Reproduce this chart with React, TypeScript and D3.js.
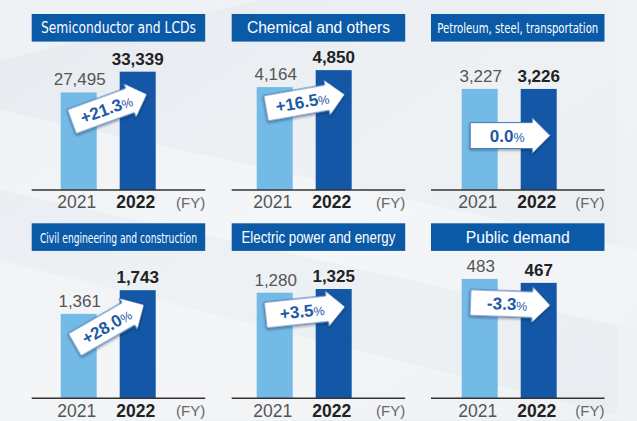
import React from "react";
import * as d3 from "d3";

const categories = [
  "Semiconductor and LCDs",
  "Chemical and others",
  "Petroleum, steel, transportation",
  "Civil engineering and construction",
  "Electric power and energy",
  "Public demand",
];
const years = ["2021", "2022"];
const values2021 = [27495, 4164, 3227, 1361, 1280, 483];
const values2022 = [33339, 4850, 3226, 1743, 1325, 467];
const changeLabels = ["+21.3", "+16.5", "0.0", "+28.0", "+3.5", "-3.3"];
const axisMax = [36630, 5260, 4150, 2096, 1576, 526];
const unitLabel = "(FY)";

// layout
const W = 637;
const H = 421;
const colX = [31.7, 231.7, 431];
const panelW = 173.5;
const headerY = [14, 223.3];
const headerH = 27.6;
const baseY = [190, 398.3];
const barOffset = [29, 25, 30.7];
const plotH = 130;
const headerFont = [16, 16, 14, 14, 16, 16];
const headerNarrow = [true, false, true, true, false, false];
const headerTextW = [155, 143, 161, 157, 154, 104];
const arrowAngle = [-20, -10, 0, -30, -6, 2];
const arrowDy = [15.6, 14.4, 46.7, 11, 18.3, 25];

const FONT = "'Liberation Sans', Arial, Helvetica, sans-serif";
const FONT_NARROW = "'Liberation Sans Narrow', 'DejaVu Sans Condensed', 'Liberation Sans', Arial, sans-serif";
const C_HEADER = "#0b5aa8";
const C_LIGHT = "#74bae6";
const C_DARK = "#1457a6";
const fmt = d3.format(",");

const arrowPath = "M-40,-13 L22,-13 L22,-18 L40,0 L22,18 L22,13 L-40,13 Z";

function Panel({ i }: { i: number }) {
  const col = i % 3;
  const row = Math.floor(i / 3);
  const x0 = colX[col];
  const by = baseY[row];
  const y = d3.scaleLinear().domain([0, axisMax[i]]).range([by, by - plotH]);
  const x = d3
    .scaleBand<string>()
    .domain(years)
    .range([x0 + barOffset[col], x0 + barOffset[col] + 95])
    .paddingInner(23 / 59)
    .paddingOuter(0);
  const vals = [values2021[i], values2022[i]];
  const bw = x.bandwidth();
  const c1 = (x(years[0]) as number) + bw / 2;
  const c2 = (x(years[1]) as number) + bw / 2;
  const ax = (c1 + c2) / 2 + 1;
  const ay = y(vals[0]) + arrowDy[i];
  const hy = headerY[row];
  return (
    <g>
      <rect x={x0} y={hy} width={panelW} height={headerH} fill={C_HEADER} />
      <text
        x={x0 + panelW / 2}
        y={hy + headerH / 2 + 5.5}
        textAnchor="middle"
        fill="#fff"
        fontSize={headerFont[i]}
        fontFamily={headerNarrow[i] ? FONT_NARROW : FONT}
        textLength={headerTextW[i]}
        lengthAdjust="spacingAndGlyphs"
      >
        {categories[i]}
      </text>
      {years.map((yr, k) => (
        <rect
          key={yr}
          x={x(yr)}
          y={y(vals[k])}
          width={bw}
          height={by - y(vals[k])}
          fill={k === 0 ? C_LIGHT : C_DARK}
        />
      ))}
      {years.map((yr, k) => (
        <text
          key={"v" + yr}
          x={(x(yr) as number) + bw / 2 + (k === 0 ? 1 : 0)}
          y={y(vals[k]) - 7}
          textAnchor="middle"
          fontSize={17}
          fontWeight={k === 0 ? 400 : 700}
          fill={k === 0 ? "#555" : "#222"}
          fontFamily={FONT}
        >
          {fmt(vals[k])}
        </text>
      ))}
      <line x1={x0} x2={x0 + panelW} y1={by} y2={by} stroke="#333" strokeWidth={1.6} />
      {years.map((yr, k) => (
        <text
          key={"l" + yr}
          x={(x(yr) as number) + bw / 2 - 2}
          y={by + 18.3}
          textAnchor="middle"
          fontSize={17.5}
          fontWeight={k === 0 ? 400 : 700}
          fill={k === 0 ? "#555" : "#222"}
          fontFamily={FONT}
        >
          {yr}
        </text>
      ))}
      <text
        x={x0 + panelW}
        y={by + 18}
        textAnchor="end"
        fontSize={15}
        fill="#666"
        fontFamily={FONT}
      >
        {unitLabel}
      </text>
      <g transform={`translate(${ax},${ay}) rotate(${arrowAngle[i]})`}>
        <path d={arrowPath} fill="#fff" stroke="#3d74b8" strokeWidth={1} filter="url(#shadow)" />
        <text
          x={-3}
          y={6}
          textAnchor="middle"
          fontSize={17}
          fontWeight={700}
          fill="#1f5aa6"
          fontFamily={FONT}
        >
          {changeLabels[i]}
          <tspan fontSize={12.5} fontWeight={400}>%</tspan>
        </text>
      </g>
    </g>
  );
}

export default function App() {
  return (
    <svg
      width={W}
      height={H}
      style={{ position: "absolute", left: 0, top: 0 }}
      viewBox={`0 0 ${W} ${H}`}
    >
      <defs>
        <linearGradient id="bg" x1="0" y1="0" x2="1" y2="1">
          <stop offset="0" stopColor="#e7ebf0" />
          <stop offset="0.5" stopColor="#eef1f4" />
          <stop offset="1" stopColor="#e9edf1" />
        </linearGradient>
        <filter id="shadow" x="-20%" y="-30%" width="140%" height="170%">
          <feDropShadow dx="-0.5" dy="1.5" stdDeviation="1" floodColor="#000" floodOpacity="0.35" />
        </filter>
      </defs>
      <rect width={W} height={H} fill="url(#bg)" />
      <polygon points="0,110 637,250 637,330 0,190" fill="#fff" opacity={0.35} />
      <polygon points="0,260 637,420 0,421" fill="#fff" opacity={0.3} />
      <polygon points="0,0 260,0 0,60" fill="#fff" opacity={0.3} />
      <rect x={617} y={0} width={20} height={H} fill="#f1f3f5" opacity={0.6} />
      {categories.map((_, i) => (
        <Panel key={i} i={i} />
      ))}
    </svg>
  );
}
